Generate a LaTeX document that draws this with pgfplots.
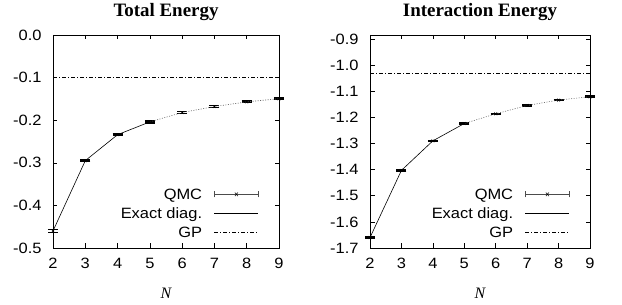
\documentclass[border=0pt]{standalone}
\usepackage{fontspec}
\setmainfont{Liberation Sans}[FakeStretch=1.1]
\newfontfamily\seriffont{Liberation Serif}
\usepackage{pgfplots}
\pgfplotsset{compat=1.18}

\pgfplotstableread{
N E err
2 -0.460 0.004
3 -0.295 0.002
4 -0.234 0.002
5 -0.204 0.002
6 -0.182 0.002
7 -0.168 0.002
8 -0.157 0.002
9 -0.1495 0.002
}\totaldata
\pgfplotstableread{
N E err
2 -1.660 0.003
3 -1.403 0.002
4 -1.290 0.002
5 -1.2237 0.002
6 -1.1866 0.002
7 -1.1546 0.002
8 -1.134 0.002
9 -1.121 0.002
}\interdata

\pgfplotsset{
  gpax/.style={
    scale only axis,
    anchor=south west,
    height=213bp,
    xmin=2, xmax=9,
    xtick={2,...,9},
    tick align=inside,
    major tick length=4.5bp,
    tick style={black, line width=0.5pt},
    axis line style={black, line width=0.7pt},
    ticklabel style={font=\fontsize{15}{18}\selectfont},
    /pgf/number format/assume math mode=true,
    xticklabel style={yshift=-7bp},
    yticklabel style={xshift=-8bp},
    clip=false,
    title style={font=\seriffont\bfseries\fontsize{19}{22}\selectfont, yshift=5bp},
    xlabel={\seriffont\itshape N},
    xlabel style={font=\fontsize{16}{18}\selectfont, yshift=-12bp},
    legend style={draw=none, fill=none, font=\fontsize{15}{18}\selectfont,
      at={(1,0)}, anchor=south east, xshift=-20bp, yshift=10bp,
      inner sep=0pt, row sep=8.5bp, nodes={inner sep=0pt, text depth=0pt}},
    legend cell align=right,
    legend plot pos=right,
  },
  qmc/.style={only marks, mark=x, mark size=2bp, black,
    mark options={line width=0.5pt},
    error bars/.cd, y dir=both, y explicit,
    error mark options={rotate=90, mark size=5bp, line width=1.5pt, black},
    error bar style={line width=1pt, black}},
  qmcleg/.style={legend image code/.code={
      \path (0bp,0bp);
      \draw[black!70, line width=0.8pt] (12bp,0bp) -- (56bp,0bp);
      \draw[black!70, line width=0.8pt] (12bp,-3bp) -- (12bp,3bp);
      \draw[black!70, line width=0.8pt] (56bp,-3bp) -- (56bp,3bp);
      \draw[black, line width=0.5pt] (32.5bp,-1.8bp) -- (35.5bp,1.8bp) (32.5bp,1.8bp) -- (35.5bp,-1.8bp);
  }},
  lineleg/.style={legend image code/.code={
      \path (0bp,0bp);
      \draw[##1] (12bp,0bp) -- (56bp,0bp);
  }},
}

\begin{document}
\begin{tikzpicture}
\useasboundingbox (0,0) rectangle (622bp,305bp);
\begin{axis}[gpax, at={(53bp,57bp)}, width=226bp,
  title={Total Energy},
  ymin=-0.5, ymax=0,
  ytick={-0.5,-0.4,-0.3,-0.2,-0.1,0},
  yticklabels={-0.5,-0.4,-0.3,-0.2,-0.1,0.0}]
  \addplot[qmcleg, qmc] table[x=N, y=E, y error=err] {\totaldata};
  \addlegendentry{QMC}
  \addplot[black, line width=0.6pt, lineleg] coordinates {(2,-0.460) (3,-0.295) (4,-0.234) (5,-0.204)};
  \addlegendentry{Exact diag.}
  \addplot[black, line width=0.5pt, dash pattern=on 4bp off 2bp on 1bp off 2bp, lineleg] coordinates {(2,-0.099) (9,-0.099)};
  \addlegendentry{GP}
  \addplot[black!60, line width=0.6pt, dash pattern=on 1bp off 1.5bp, forget plot] coordinates {(5,-0.204) (6,-0.182) (7,-0.168) (8,-0.157) (9,-0.1495)};
\end{axis}
\begin{axis}[gpax, at={(370bp,57bp)}, width=220bp,
  title={Interaction Energy},
  ymin=-1.7, ymax=-0.885,
  ytick={-1.7,-1.6,-1.5,-1.4,-1.3,-1.2,-1.1,-1.0,-0.9},
  yticklabels={-1.7,-1.6,-1.5,-1.4,-1.3,-1.2,-1.1,-1.0,-0.9}]
  \addplot[qmcleg, qmc] table[x=N, y=E, y error=err] {\interdata};
  \addlegendentry{QMC}
  \addplot[black, line width=0.6pt, lineleg] coordinates {(2,-1.660) (3,-1.403) (4,-1.290) (5,-1.2237)};
  \addlegendentry{Exact diag.}
  \addplot[black, line width=0.5pt, dash pattern=on 4bp off 2bp on 1bp off 2bp, lineleg] coordinates {(2,-1.030) (9,-1.030)};
  \addlegendentry{GP}
  \addplot[black!60, line width=0.6pt, dash pattern=on 1bp off 1.5bp, forget plot] coordinates {(5,-1.2237) (6,-1.1866) (7,-1.1546) (8,-1.134) (9,-1.121)};
\end{axis}
\end{tikzpicture}
\end{document}
